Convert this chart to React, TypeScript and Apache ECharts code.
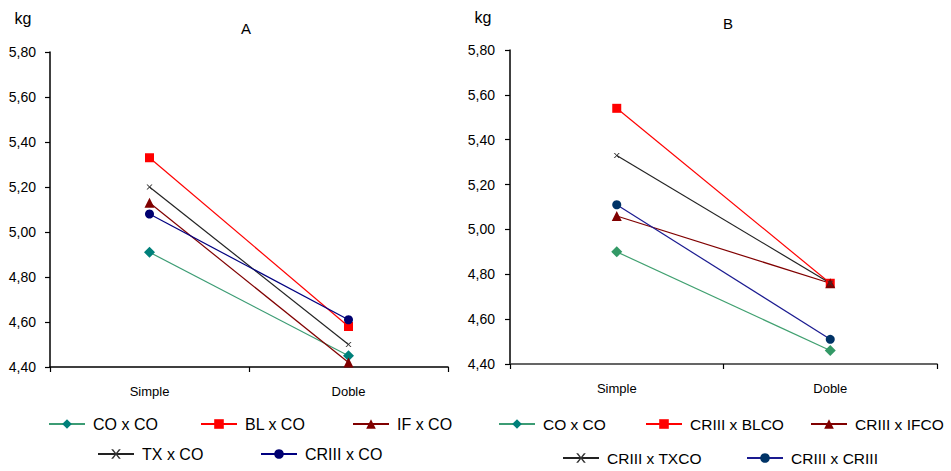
import React, { useEffect, useRef } from "react";
import * as echarts from "echarts";

const categories = ["Simple", "Doble"];

const namesA = ["CO x CO", "BL x CO", "IF x CO", "TX x CO", "CRIII x CO"];
const coA = [4.91, 4.45];
const blA = [5.33, 4.58];
const ifA = [5.13, 4.42];
const txA = [5.2, 4.5];
const crA = [5.08, 4.61];

const namesB = ["CO x CO", "CRIII x BLCO", "CRIII x IFCO", "CRIII x TXCO", "CRIII x CRIII"];
const coB = [4.9, 4.46];
const blB = [5.54, 4.76];
const ifB = [5.06, 4.76];
const txB = [5.33, 4.76];
const crB = [5.11, 4.51];

const yMin = 4.4;
const yMax = 5.8;
const yStep = 0.2;

const FONT = "Liberation Sans, Arial, sans-serif";
const X_MARK = "path://M0,0 L2,0 L5,3.2 L8,0 L10,0 L6,4 L10,8 L8,8 L5,4.8 L2,8 L0,8 L4,4 Z";

export default function App() {
  const ref = useRef<HTMLDivElement>(null);
  useEffect(() => {
    if (!ref.current) return;
    const chart = echarts.init(ref.current, undefined, { renderer: "svg" });

    const xAxisBase = (gridIndex: number, lineColor: string) => ({
      type: "category",
      gridIndex,
      data: categories,
      boundaryGap: true,
      axisLine: { lineStyle: { color: lineColor, width: 1.6 } },
      axisTick: { show: true, length: 5, lineStyle: { color: "#000", width: 1.2 } },
      axisLabel: { color: "#000", fontSize: 13, fontFamily: FONT, margin: 18 },
      splitLine: { show: false },
    });
    const yAxisBase = (gridIndex: number, margin: number) => ({
      type: "value",
      gridIndex,
      min: yMin,
      max: yMax,
      interval: yStep,
      axisLine: { show: true, lineStyle: { color: "#000", width: 1.5 } },
      axisTick: { show: true, length: 5, lineStyle: { color: "#000", width: 1.2 } },
      axisLabel: {
        color: "#000",
        fontSize: 14,
        fontFamily: FONT,
        margin,
        formatter: (v: number) => v.toFixed(2).replace(".", ","),
      },
      splitLine: { show: false },
    });

    const mk = (
      name: string,
      data: number[],
      idx: number,
      lineColor: string,
      markColor: string,
      symbol: string,
      symbolSize: number | number[]
    ) => ({
      type: "line",
      name,
      xAxisIndex: idx,
      yAxisIndex: idx,
      data,
      symbol,
      symbolSize,
      lineStyle: { color: lineColor, width: 1.2 },
      itemStyle: { color: markColor },
      color: lineColor,
      z: 3,
    });

    const series = [
      mk(namesA[0], coA, 0, "#3c9c74", "#00807a", "diamond", 11),
      mk(namesA[1], blA, 0, "#ff0000", "#ff0000", "rect", 9),
      mk(namesA[2], ifA, 0, "#800000", "#800000", "triangle", 10),
      mk(namesA[3], txA, 0, "#222222", "#333333", X_MARK, [6, 5]),
      mk(namesA[4], crA, 0, "#000080", "#000070", "circle", 9),
      mk(namesB[0], coB, 1, "#40a070", "#339966", "diamond", 11),
      mk(namesB[1], blB, 1, "#ff0000", "#ff0000", "rect", 9),
      mk(namesB[2], ifB, 1, "#800000", "#800000", "triangle", 10),
      mk(namesB[3], txB, 1, "#222222", "#333333", X_MARK, [6, 5]),
      mk(namesB[4], crB, 1, "#1a1a90", "#003366", "circle", 9),
    ];

    const leg = (name: string, left: number, top: number, size: number) => ({
      show: true,
      left,
      top,
      padding: 0,
      itemGap: 0,
      itemWidth: 36,
      itemHeight: 12,
      selectedMode: false,
      data: [name],
      textStyle: { color: "#000", fontSize: size, fontFamily: FONT, padding: [0, 0, 0, 3] },
    });

    const legends = [
      leg(namesA[0], 48, 416, 16),
      leg(namesA[1], 200, 416, 16),
      leg(namesA[2], 352, 416, 16),
      leg(namesA[3], 97, 446, 16),
      leg(namesA[4], 260, 446, 16),
      leg(namesB[0], 498, 416, 15.5),
      leg(namesB[1], 645, 416, 15.5),
      leg(namesB[2], 810, 416, 15.5),
      leg(namesB[3], 562, 450, 15.5),
      leg(namesB[4], 746, 450, 15.5),
    ];

    const txt = (text: string, x: number, y: number, size: number) => ({
      type: "text",
      x,
      y,
      style: {
        text,
        fill: "#000",
        fontSize: size,
        fontFamily: FONT,
        textAlign: "center",
        textVerticalAlign: "middle",
      },
    });

    chart.setOption({
      animation: false,
      backgroundColor: "#fff",
      grid: [
        { left: 50, top: 52, width: 398, height: 315 },
        { left: 510, top: 50, width: 427, height: 314 },
      ],
      xAxis: [xAxisBase(0, "#000"), xAxisBase(1, "#333")],
      yAxis: [yAxisBase(0, 14), yAxisBase(1, 15)],
      legend: legends,
      series,
      graphic: [
        txt("A", 246, 28, 15),
        txt("B", 728, 23, 15),
        txt("kg", 23, 18, 16),
        txt("kg", 483, 17, 16),
      ],
    });
    return () => chart.dispose();
  }, []);
  return (
    <div
      ref={ref}
      style={{ position: "absolute", left: 0, top: 0, width: 951, height: 471, overflow: "hidden" }}
    />
  );
}
